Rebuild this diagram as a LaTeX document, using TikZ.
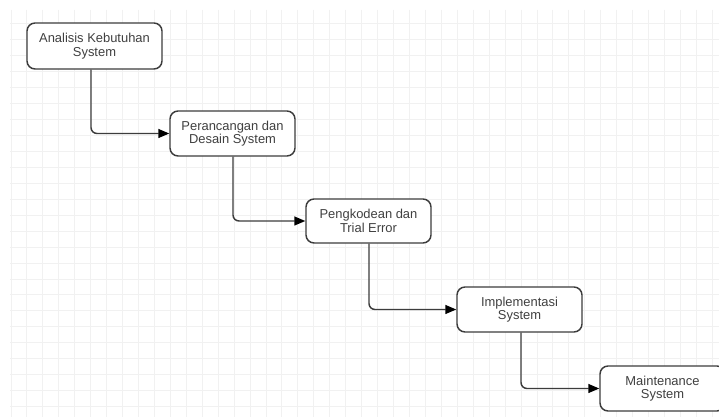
\documentclass[tikz,border=0pt]{standalone}
\usepackage{fontspec}
\setmainfont{Liberation Sans}
\usetikzlibrary{arrows.meta}
\definecolor{gridc}{HTML}{F1F1F1}
\definecolor{linec}{HTML}{3C3C3C}
\definecolor{textc}{HTML}{404040}
\begin{document}
\begin{tikzpicture}[x=0.75pt,y=-0.75pt,
  stepbox/.style={draw=linec, line width=1.1pt, rounded corners=6pt, fill=white,
    align=center, text=textc, font=\fontsize{9.7}{10.2}\selectfont, inner sep=0pt},
  flow/.style={draw=linec, line width=1.1pt, rounded corners=4.5pt,
    -{Triangle[length=8.25pt,width=6.75pt,color=black]}}
]
\useasboundingbox (0,0) rectangle (719,417);
\fill[white] (0,0) rectangle (719,417);
% grid
\foreach \i in {0,...,44} {
  \draw[gridc, line width=0.75pt] ({11+15.94*\i},10) -- ({11+15.94*\i},417);
}
\foreach \j in {0,...,25} {
  \draw[gridc, line width=0.75pt] (10,{24+15.94*\j}) -- (719,{24+15.94*\j});
}
% boxes
\node[stepbox, minimum width=101.25pt, minimum height=34.5pt] (a) at (94.5,46) {Analisis Kebutuhan\\System};
\node[stepbox, minimum width=93.75pt, minimum height=33.75pt] (b) at (232.5,133.5) {Perancangan dan\\Desain System};
\node[stepbox, minimum width=93.75pt, minimum height=33pt] (c) at (368.5,221) {Pengkodean dan\\Trial Error};
\node[stepbox, minimum width=93.75pt, minimum height=33.75pt] (d) at (519.5,309.5) {Implementasi\\System};
\node[stepbox, minimum width=93.75pt, minimum height=33.75pt] (e) at (662.5,388.5) {Maintenance\\System};
% connectors
\draw[flow] (a.south -| 91,0) |- (b.west);
\draw[flow] (b.south -| 233,0) |- (c.west);
\draw[flow] (c.south -| 369,0) |- (d.west);
\draw[flow] (d.south -| 521,0) |- (e.west);
\end{tikzpicture}
\end{document}
